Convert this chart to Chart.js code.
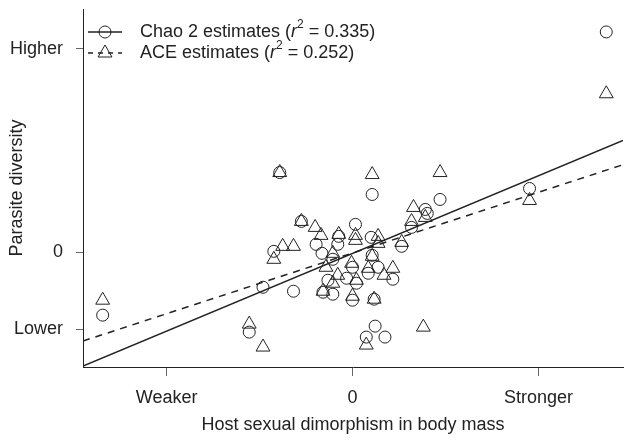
<!DOCTYPE html>
<html>
<head>
<meta charset="utf-8">
<script src="https://cdn.jsdelivr.net/npm/chart.js@4.4.1/dist/chart.umd.min.js"></script>
<style>
  html, body { margin: 0; padding: 0; background: #fff; }
  #wrap { width: 632px; height: 448px; }
</style>
</head>
<body>
<div id="wrap"><canvas id="graphCanvas"></canvas></div>
<script>
// values (arbitrary units, 0 = average host)
var chaoX = [-2.54, -1.05, -0.91, -0.60, -0.74, -0.52, 0.20, 0.89, 1.80, 2.58,
             -0.80, -0.37, -0.15, -0.31, 0.03, -0.14, 0.19, 0.74, 0.76, 0.60,
             0.50, -0.20, -0.25, -0.30, -0.20, 0.00, -0.06, 0.04, 0.00, 0.20,
             0.16, 0.26, 0.41, 0.22, 0.23, 0.14, 0.33];
var chaoY = [-0.63, -0.80, -0.35, -0.39, 0.80, 0.31, 0.58, 0.53, 0.64, 2.21,
             0.01, 0.08, 0.08, -0.01, 0.28, 0.16, 0.15, 0.43, 0.39, 0.25,
             0.06, -0.07, -0.28, -0.40, -0.42, -0.15, -0.26, -0.31, -0.48, -0.03,
             -0.21, -0.15, -0.27, -0.47, -0.74, -0.85, -0.85];

var aceX = [-2.54, -1.05, -0.91, -0.74, -0.52, 0.20, 0.89, 1.80, 2.58, 0.72,
            0.14, -0.38, -0.32, -0.14, 0.03, 0.03, 0.26, 0.26, 0.62, 0.74,
            0.60, 0.50, -0.71, -0.60, -0.80, -0.20, -0.27, -0.15, -0.30, -0.20,
            -0.01, 0.04, 0.00, 0.20, 0.16, 0.32, 0.41, 0.22];
var aceY = [-0.48, -0.72, -0.95, 0.80, 0.31, 0.78, 0.80, 0.52, 1.59, -0.75,
            -0.93, 0.25, 0.17, 0.18, 0.17, 0.12, 0.16, 0.09, 0.45, 0.35,
            0.31, 0.10, 0.06, 0.06, -0.07, -0.01, -0.15, -0.23, -0.39, -0.31,
            -0.11, -0.28, -0.44, -0.04, -0.16, -0.23, -0.16, -0.47];

// fitted lines: [intercept, slope]
var chaoFit = [-0.012, 0.412];
var aceFit = [-0.007, 0.322];

var legendNames = ['Chao 2 estimates', 'ACE estimates'];
var legendR2 = ['0.335', '0.252'];

var xTickValues = [-1.89, 0, 1.89];
var xTickLabels = ['Weaker', '0', 'Stronger'];
var yTickValues = [-0.77, 0, 2.04];
var yTickLabels = ['Lower', '0', 'Higher'];

var xMin = -2.74, xMax = 2.75;
var yMin = -1.15, yMax = 2.44;

var FONT = "'Liberation Sans', Arial, sans-serif";
var INK = '#222';

function toPoints(xs, ys) {
    var pts = [];
    for (var i = 0; i < xs.length; i++) pts.push({x: xs[i], y: ys[i]});
    return pts;
}

function fitLine(fit) {
    return [{x: xMin, y: fit[0] + fit[1] * xMin}, {x: xMax, y: fit[0] + fit[1] * xMax}];
}

// legend drawn by hand so the r can be italic with a superscript 2
var legendPlugin = {
    id: 'rLegend',
    afterDraw: function(chart) {
        var ctx = chart.ctx;
        ctx.save();
        for (var i = 0; i < legendNames.length; i++) {
            var y = 32 + i * 21;
            ctx.strokeStyle = INK;
            ctx.lineWidth = 1.3;
            ctx.setLineDash(i == 0 ? [] : [5, 5]);
            ctx.beginPath();
            ctx.moveTo(88, y);
            ctx.lineTo(122, y);
            ctx.stroke();
            ctx.setLineDash([]);
            ctx.lineWidth = 1;
            ctx.beginPath();
            if (i == 0) {
                ctx.arc(105, y, 6, 0, Math.PI * 2);
            } else {
                ctx.moveTo(105, y - 8);
                ctx.lineTo(105 + 6.93, y + 4);
                ctx.lineTo(105 - 6.93, y + 4);
                ctx.closePath();
            }
            ctx.stroke();

            ctx.fillStyle = INK;
            ctx.textBaseline = 'middle';
            ctx.textAlign = 'left';
            var x = 140;
            var parts = [
                [legendNames[i] + ' (', '18px ' + FONT, 0],
                ['r', 'italic 18px ' + FONT, 0],
                ['2', '12px ' + FONT, -7],
                [' = ' + legendR2[i] + ')', '18px ' + FONT, 0]
            ];
            for (var j = 0; j < parts.length; j++) {
                ctx.font = parts[j][1];
                ctx.fillText(parts[j][0], x, y + parts[j][2]);
                x += ctx.measureText(parts[j][0]).width;
            }
        }
        ctx.restore();
    }
};

var mychart = new Chart(document.getElementById('graphCanvas'), {
    type: 'scatter',
    data: {
        datasets: [{
            label: 'Chao 2 estimates',
            data: toPoints(chaoX, chaoY),
            pointStyle: 'circle',
            pointRadius: 6,
            borderColor: INK,
            backgroundColor: 'rgba(0,0,0,0)',
            borderWidth: 1
        }, {
            label: 'ACE estimates',
            data: toPoints(aceX, aceY),
            pointStyle: 'triangle',
            pointRadius: 8,
            borderColor: INK,
            backgroundColor: 'rgba(0,0,0,0)',
            borderWidth: 1
        }, {
            type: 'line',
            label: 'Chao 2 fit',
            data: fitLine(chaoFit),
            borderColor: INK,
            borderWidth: 1.5,
            pointRadius: 0,
            fill: false
        }, {
            type: 'line',
            label: 'ACE fit',
            data: fitLine(aceFit),
            borderColor: INK,
            borderWidth: 1.5,
            borderDash: [7, 6],
            pointRadius: 0,
            fill: false
        }]
    },
    options: {
        responsive: true,
        maintainAspectRatio: false,
        animation: false,
        layout: { padding: { top: 8, right: 0, left: 0, bottom: 0 } },
        plugins: {
            legend: { display: false },
            tooltip: { enabled: false }
        },
        scales: {
            x: {
                type: 'linear',
                min: xMin,
                max: xMax,
                afterBuildTicks: function(s) {
                    s.ticks = xTickValues.map(function(v) { return {value: v}; });
                },
                afterFit: function(s) {
                    s.height = 81;
                    s.paddingLeft = 0;
                    s.paddingRight = 0;
                },
                ticks: {
                    autoSkip: false,
                    maxRotation: 0,
                    padding: 11,
                    color: INK,
                    font: { family: FONT, size: 18 },
                    callback: function(v) { return xTickLabels[xTickValues.indexOf(v)]; }
                },
                grid: { drawOnChartArea: false, tickLength: 9, tickColor: '#666' },
                border: { color: INK, width: 1 },
                title: {
                    display: true,
                    text: 'Host sexual dimorphism in body mass',
                    color: INK,
                    font: { family: FONT, size: 18 },
                    padding: { top: 0, bottom: 12 }
                }
            },
            y: {
                type: 'linear',
                min: yMin,
                max: yMax,
                afterBuildTicks: function(s) {
                    s.ticks = yTickValues.map(function(v) { return {value: v}; });
                },
                afterFit: function(s) {
                    s.width = 83;
                    s.paddingTop = 0;
                    s.paddingBottom = 0;
                },
                ticks: {
                    autoSkip: false,
                    padding: 13,
                    color: INK,
                    font: { family: FONT, size: 18 },
                    callback: function(v) { return yTickLabels[yTickValues.indexOf(v)]; }
                },
                grid: { drawOnChartArea: false, tickLength: 7, tickColor: '#666' },
                border: { color: INK, width: 1 },
                title: {
                    display: true,
                    text: 'Parasite diversity',
                    color: INK,
                    font: { family: FONT, size: 18 },
                    padding: { top: 6, bottom: 0 }
                }
            }
        }
    },
    plugins: [legendPlugin]
});
</script>
</body>
</html>
